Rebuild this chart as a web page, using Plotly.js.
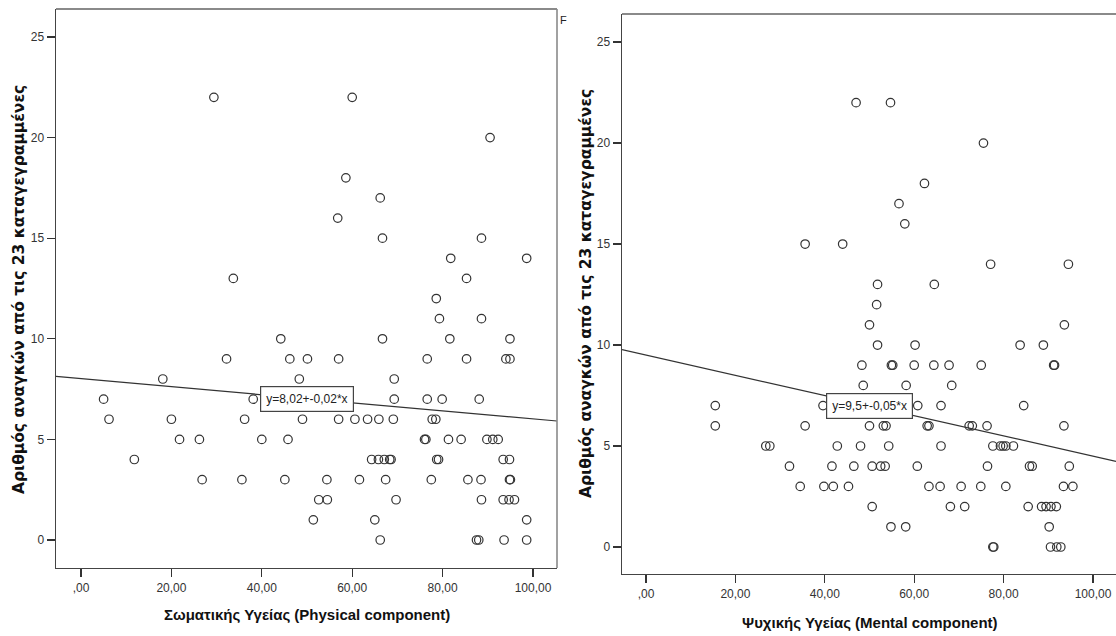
<!DOCTYPE html>
<html>
<head>
<meta charset="utf-8">
<script src="https://cdn.plot.ly/plotly-3.0.1.min.js"></script>
<style>
  html, body { margin: 0; padding: 0; background: #ffffff; }
  #chart { width: 1116px; height: 636px; }
</style>
</head>
<body>
<div id="chart"></div>
<script>
// Physical component score vs. number of needs (out of 23)
const physX = [
  29.4, 60.0,
  90.5,
  58.6,
  66.2,
  56.8,
  66.7, 88.6,
  81.8, 98.6,
  33.7, 85.3,
  78.6,
  79.3, 88.6,
  44.2, 66.7, 81.6, 94.9,
  32.2, 46.2, 50.1, 57.0, 76.6, 85.3, 94.0, 94.9,
  18.1, 48.3, 69.3,
  5.0, 38.1, 69.3, 76.6, 79.9, 88.1,
  6.2, 20.0, 36.2, 49.0, 57.0, 60.6, 63.4, 65.9, 69.1, 77.7, 78.5,
  21.8, 26.2, 40.0, 45.8, 76.0, 76.3, 81.3, 84.1, 89.8, 91.1, 92.3,
  11.8, 64.3, 65.8, 67.1, 68.3, 68.6, 78.7, 79.1, 93.4, 94.8,
  26.8, 35.6, 45.1, 54.4, 61.6, 67.4, 77.5, 85.6, 88.5, 94.8, 95.0,
  52.6, 54.5, 69.7, 88.6, 93.4, 94.7, 95.9,
  51.4, 65.0, 98.6,
  66.2, 87.5, 88.0, 93.6, 98.6
];
const physY = [
  22, 22,
  20,
  18,
  17,
  16,
  15, 15,
  14, 14,
  13, 13,
  12,
  11, 11,
  10, 10, 10, 10,
  9, 9, 9, 9, 9, 9, 9, 9,
  8, 8, 8,
  7, 7, 7, 7, 7, 7,
  6, 6, 6, 6, 6, 6, 6, 6, 6, 6, 6,
  5, 5, 5, 5, 5, 5, 5, 5, 5, 5, 5,
  4, 4, 4, 4, 4, 4, 4, 4, 4, 4,
  3, 3, 3, 3, 3, 3, 3, 3, 3, 3, 3,
  2, 2, 2, 2, 2, 2, 2,
  1, 1, 1,
  0, 0, 0, 0, 0
];

// Mental component score vs. number of needs (out of 23)
const mentX = [
  47.0, 54.7,
  75.5,
  62.3,
  56.6,
  57.9,
  35.6, 44.0,
  77.1, 94.5,
  51.8, 64.5,
  51.6,
  50.0, 93.6,
  51.8, 60.2, 83.7, 88.9,
  48.3, 54.9, 55.2, 60.0, 64.4, 67.8, 75.0, 91.2, 91.4,
  48.6, 58.2, 68.4,
  15.5, 39.6, 60.8, 66.0, 84.5,
  15.5, 35.6, 50.0, 53.1, 53.7, 62.9, 63.3, 72.3, 73.0, 76.3, 93.5,
  26.8, 27.7, 42.8, 48.0, 54.3, 66.0, 77.6, 79.3, 79.9, 80.5, 82.2,
  32.1, 41.6, 46.5, 50.6, 52.5, 53.5, 60.7, 76.4, 85.8, 86.4, 94.7,
  34.5, 39.8, 41.9, 45.3, 63.3, 65.8, 70.5, 74.9, 80.5, 93.4, 95.5,
  50.6, 68.1, 71.3, 85.5, 88.5, 89.5, 90.6, 91.8,
  54.8, 58.1, 90.2,
  77.6, 77.8, 90.5, 91.9, 92.8
];
const mentY = [
  22, 22,
  20,
  18,
  17,
  16,
  15, 15,
  14, 14,
  13, 13,
  12,
  11, 11,
  10, 10, 10, 10,
  9, 9, 9, 9, 9, 9, 9, 9, 9,
  8, 8, 8,
  7, 7, 7, 7, 7,
  6, 6, 6, 6, 6, 6, 6, 6, 6, 6, 6,
  5, 5, 5, 5, 5, 5, 5, 5, 5, 5, 5,
  4, 4, 4, 4, 4, 4, 4, 4, 4, 4, 4,
  3, 3, 3, 3, 3, 3, 3, 3, 3, 3, 3,
  2, 2, 2, 2, 2, 2, 2, 2,
  1, 1, 1,
  0, 0, 0, 0, 0
];

// Fitted lines: y = a + b*x
const physFit = { a: 8.02, b: -0.02 };
const mentFit = { a: 9.5, b: -0.05 };

// Axis ticks
const xTickVals = [0, 20, 40, 60, 80, 100];
const xTickText = [",00", "20,00", "40,00", "60,00", "80,00", "100,00"];
const yTickVals = [0, 5, 10, 15, 20, 25];
const yTickText = ["0", "5", "10", "15", "20", "25"];

// Labels
const yTitle = "Αριθμός αναγκών από τις 23 καταγεγραμμένες";
const physTitle = "Σωματικής Υγείας (Physical component)";
const mentTitle = "Ψυχικής Υγείας (Mental component)";

const W = 1116, H = 636;
const physXRange = [-5.53, 105.31];
const physYRange = [-1.392, 26.39];
const mentXRange = [-5.37, 105.15];
const mentYRange = [-1.337, 26.39];

const ink = "#333333";
const tickFont = { family: "Liberation Sans Narrow, Arial Narrow, Liberation Sans, Arial, sans-serif", size: 12, color: "#333333" };

function num(v) { return String(v).replace(".", ","); }
function eqText(f) { return "y=" + num(f.a) + "+" + num(f.b) + "*x"; }
function fitTrace(f, range, xa, ya) {
  return {
    type: "scatter", mode: "lines",
    x: [range[0], range[1]],
    y: [f.a + f.b * range[0], f.a + f.b * range[1]],
    xaxis: xa, yaxis: ya,
    line: { color: ink, width: 1.2 },
    hoverinfo: "skip", showlegend: false
  };
}
function pointTrace(xs, ys, xa, ya) {
  return {
    type: "scatter", mode: "markers",
    x: xs, y: ys, xaxis: xa, yaxis: ya,
    marker: { symbol: "circle-open", size: 8.5, color: ink, line: { width: 1.2, color: ink } },
    showlegend: false
  };
}

const traces = [
  fitTrace(physFit, physXRange, "x", "y"),
  pointTrace(physX, physY, "x", "y"),
  fitTrace(mentFit, mentXRange, "x2", "y2"),
  pointTrace(mentX, mentY, "x2", "y2")
];

function xAxis(domain, range, anchor) {
  return {
    domain: domain, range: range, anchor: anchor,
    tickmode: "array", tickvals: xTickVals, ticktext: xTickText,
    ticks: "outside", ticklen: 8, tickwidth: 1.2, tickcolor: ink,
    showgrid: false, zeroline: false,
    showline: true, linecolor: "#444444", linewidth: 1.4,
    tickfont: tickFont, fixedrange: true
  };
}
function yAxis(domain, range, anchor) {
  return {
    domain: domain, range: range, anchor: anchor,
    tickmode: "array", tickvals: yTickVals, ticktext: yTickText,
    ticks: "outside", ticklen: 8, tickwidth: 1.2, tickcolor: ink,
    showgrid: false, zeroline: false,
    showline: true, linecolor: "#444444", linewidth: 1.4,
    tickfont: tickFont, fixedrange: true
  };
}

const titleFontY = { family: "DejaVu Sans, Verdana, sans-serif", size: 15.5, color: "#111111", weight: "bold" };
const titleFontX = { family: "Liberation Sans, Arial, sans-serif", size: 15, color: "#111111", weight: "bold" };

function paperText(px, py, text, font, angle) {
  return {
    xref: "paper", yref: "paper", x: px / W, y: 1 - py / H,
    xanchor: "center", yanchor: "middle",
    text: text, textangle: angle || 0, showarrow: false, font: font
  };
}
function eqBox(xa, ya, f) {
  return {
    xref: xa, yref: ya, x: 50, y: f.a + f.b * 50,
    xanchor: "center", yanchor: "middle",
    text: eqText(f), showarrow: false,
    font: { family: tickFont.family, size: 12, color: "#222222" }, bgcolor: "#ffffff",
    bordercolor: "#444444", borderwidth: 1.2, borderpad: 5
  };
}

const layout = {
  width: W, height: H,
  margin: { l: 0, r: 0, t: 0, b: 0 },
  paper_bgcolor: "#ffffff", plot_bgcolor: "#ffffff",
  showlegend: false,
  xaxis: xAxis([56 / W, 557 / W], physXRange, "y"),
  yaxis: yAxis([1 - 568 / H, 1 - 9 / H], physYRange, "x"),
  xaxis2: xAxis([622 / W, 1], mentXRange, "y2"),
  yaxis2: yAxis([1 - 574 / H, 1 - 14 / H], mentYRange, "x2"),
  shapes: [
    { type: "line", xref: "x domain", yref: "y domain", x0: 0, x1: 1, y0: 1, y1: 1, line: { color: "#8a8a8a", width: 2 } },
    { type: "line", xref: "x domain", yref: "y domain", x0: 1, x1: 1, y0: 0, y1: 1, line: { color: "#8a8a8a", width: 1.6 } },
    { type: "line", xref: "x2 domain", yref: "y2 domain", x0: 0, x1: 1, y0: 1, y1: 1, line: { color: "#8a8a8a", width: 2 } }
  ],
  annotations: [
    eqBox("x", "y", physFit),
    eqBox("x2", "y2", mentFit),
    paperText(19, 290, yTitle, titleFontY, -90),
    paperText(586, 294, yTitle, titleFontY, -90),
    paperText(307, 614, physTitle, titleFontX),
    paperText(870, 622, mentTitle, titleFontX),
    { xref: "paper", yref: "paper", x: 558 / W, y: 1 - 20 / H, xanchor: "left", yanchor: "middle", text: "F", showarrow: false,
      font: { family: tickFont.family, size: 11, color: "#222222" } }
  ]
};

Plotly.newPlot("chart", traces, layout, { displayModeBar: false, staticPlot: true });
</script>
</body>
</html>
